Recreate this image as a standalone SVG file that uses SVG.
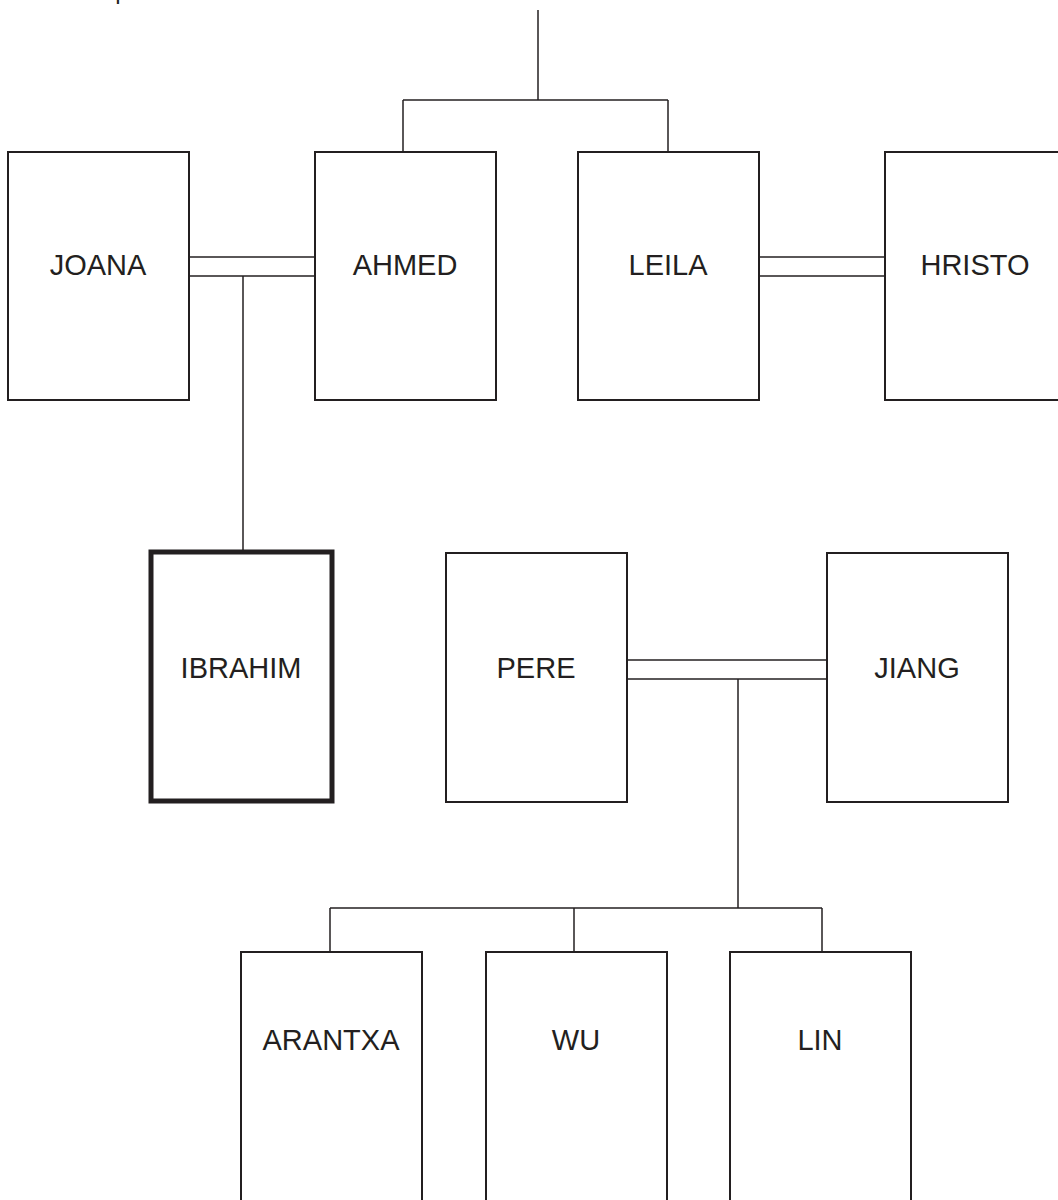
<svg xmlns="http://www.w3.org/2000/svg" width="1058" height="1200" viewBox="0 0 1058 1200">
<style>
.box{fill:#fff;stroke:#231f20;stroke-width:2}
.focus{fill:#fff;stroke:#231f20;stroke-width:5}
.lbl{font-family:"Liberation Sans",Arial,sans-serif;font-size:29px;fill:#231f20;text-anchor:middle}
.cap{font-family:"Liberation Sans",Arial,sans-serif;font-size:24px;fill:#231f20}
#connectors line{stroke:#231f20;stroke-width:1.5}
</style>
<rect width="1058" height="1200" fill="#fff"/>
<text class="cap" x="42" y="-1">Those parents</text>
<g id="connectors">
<line x1="538" y1="10" x2="538" y2="100"/>
<line x1="403" y1="100" x2="668" y2="100"/>
<line x1="403" y1="100" x2="403" y2="152"/>
<line x1="668" y1="100" x2="668" y2="152"/>
<line x1="189" y1="257" x2="315" y2="257"/>
<line x1="189" y1="276" x2="315" y2="276"/>
<line x1="243" y1="276" x2="243" y2="550"/>
<line x1="759" y1="257" x2="885" y2="257"/>
<line x1="759" y1="276" x2="885" y2="276"/>
<line x1="627" y1="660" x2="827" y2="660"/>
<line x1="627" y1="679" x2="827" y2="679"/>
<line x1="738" y1="679" x2="738" y2="908"/>
<line x1="330" y1="908" x2="822" y2="908"/>
<line x1="330" y1="908" x2="330" y2="952"/>
<line x1="574" y1="908" x2="574" y2="952"/>
<line x1="822" y1="908" x2="822" y2="952"/>
</g>
<g id="joana"><rect class="box" x="8" y="152" width="181" height="248"/><text class="lbl" x="98" y="275">JOANA</text></g>
<g id="ahmed"><rect class="box" x="315" y="152" width="181" height="248"/><text class="lbl" x="405" y="275">AHMED</text></g>
<g id="leila"><rect class="box" x="578" y="152" width="181" height="248"/><text class="lbl" x="668" y="275">LEILA</text></g>
<g id="hristo"><rect class="box" x="885" y="152" width="181" height="248"/><text class="lbl" x="975" y="275">HRISTO</text></g>
<g id="ibrahim"><rect class="focus" x="151" y="552" width="181" height="249"/><text class="lbl" x="241" y="678">IBRAHIM</text></g>
<g id="pere"><rect class="box" x="446" y="553" width="181" height="249"/><text class="lbl" x="536" y="678">PERE</text></g>
<g id="jiang"><rect class="box" x="827" y="553" width="181" height="249"/><text class="lbl" x="917" y="678">JIANG</text></g>
<g id="arantxa"><rect class="box" x="241" y="952" width="181" height="260"/><text class="lbl" x="331" y="1050">ARANTXA</text></g>
<g id="wu"><rect class="box" x="486" y="952" width="181" height="260"/><text class="lbl" x="576" y="1050">WU</text></g>
<g id="lin"><rect class="box" x="730" y="952" width="181" height="260"/><text class="lbl" x="820" y="1050">LIN</text></g>
</svg>
